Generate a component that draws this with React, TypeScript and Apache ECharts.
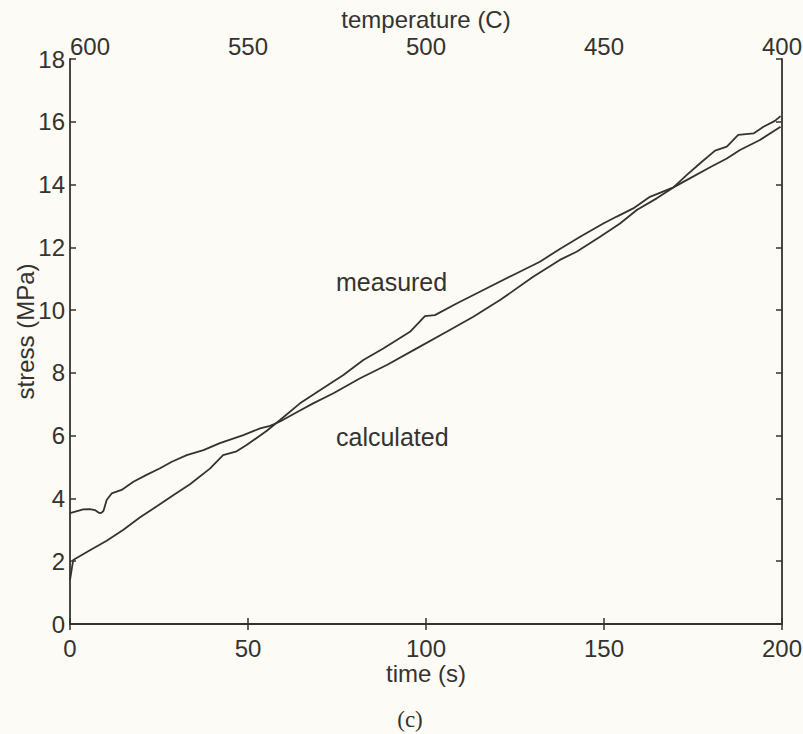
import React, { useEffect, useRef } from "react";
import * as echarts from "echarts";

// measured stress (MPa) vs time (s)
const measuredTime = [0, 0.9, 5.6, 10.3, 15, 19.7, 24.4, 29, 33.7, 39.3, 43, 46.8, 49.6, 55.2, 59, 64.6, 70.2, 76.8, 82.4, 88, 95.5, 99.7, 102.5, 108.6, 116.1, 124.5, 132, 137.6, 143.3, 149.8, 153.6, 158.2, 162.9, 169.5, 173.2, 179.8, 184.5, 188.2, 193.8, 199.6];
const measuredStress = [1.4, 2.04, 2.35, 2.65, 3.0, 3.4, 3.75, 4.1, 4.45, 4.95, 5.38, 5.5, 5.7, 6.15, 6.5, 7.03, 7.45, 7.93, 8.41, 8.78, 9.31, 9.81, 9.84, 10.21, 10.64, 11.12, 11.54, 11.95, 12.34, 12.76, 12.98, 13.24, 13.61, 13.91, 14.14, 14.55, 14.83, 15.1, 15.42, 15.84];

// calculated stress (MPa) vs time (s)
const calculatedTime = [0, 3.7, 5.6, 7, 8, 8.7, 9.4, 10.3, 11.7, 14.5, 17.8, 21.5, 25.3, 28.6, 32.8, 37.5, 42.1, 48.7, 53.4, 56.2, 59, 64.6, 68.3, 74, 81.5, 89, 97.4, 105.8, 113.3, 120.8, 130.1, 137.6, 142.3, 148.9, 154.5, 159.2, 164.8, 169.5, 173.2, 177, 181.2, 184.5, 187.7, 192, 194.8, 198, 199.6];
const calculatedStress = [3.53, 3.65, 3.66, 3.63, 3.55, 3.53, 3.6, 3.95, 4.16, 4.27, 4.53, 4.75, 4.96, 5.17, 5.38, 5.54, 5.76, 6.02, 6.23, 6.31, 6.45, 6.8, 7.03, 7.35, 7.83, 8.25, 8.78, 9.31, 9.79, 10.32, 11.06, 11.6, 11.86, 12.34, 12.76, 13.19, 13.56, 13.91, 14.3, 14.68, 15.08, 15.21, 15.58, 15.63, 15.84, 16.03, 16.18];

const timeRange = [0, 200];
const temperatureRange = [400, 600];
const stressRange = [0, 18];

const INK = "#35332f";
const FONT = "'Liberation Sans', Arial, Helvetica, sans-serif";
const FS = 24;
const FS_NOTE = 25;

export default function App() {
  const ref = useRef<HTMLDivElement>(null);
  useEffect(() => {
    if (!ref.current) return;
    const chart = echarts.init(ref.current, undefined, { renderer: "svg" });
    const axisLine = { show: true, lineStyle: { color: INK, width: 1.8 } };
    const tick = { show: true, inside: true, length: 6, lineStyle: { color: INK, width: 1.5 } };
    const label = { color: INK, fontFamily: FONT, fontSize: FS };
    const zip = (a: number[], b: number[]) => a.map((t, i) => [t, b[i]]);
    chart.setOption({
      animation: false,
      backgroundColor: "#fcfbf5",
      textStyle: { fontFamily: FONT },
      grid: { left: 70, right: 21, top: 59, bottom: 110, containLabel: false, outerBoundsMode: "none" },
      xAxis: [
        {
          type: "value",
          position: "bottom",
          min: timeRange[0],
          max: timeRange[1],
          interval: 50,
          axisLine,
          axisTick: tick,
          splitLine: { show: false },
          axisLabel: { ...label, margin: 12 },
          name: "time (s)",
          nameLocation: "middle",
          nameGap: 37,
          nameMoveOverlap: false,
          nameTextStyle: { ...label },
        },
        {
          type: "value",
          position: "top",
          inverse: true,
          min: temperatureRange[0],
          max: temperatureRange[1],
          interval: 50,
          axisLine,
          axisTick: tick,
          splitLine: { show: false },
          axisLabel: { ...label, margin: 1, alignMaxLabel: "left" },
          name: "temperature (C)",
          nameLocation: "middle",
          nameGap: 28,
          nameMoveOverlap: false,
          nameTextStyle: { ...label },
        },
      ],
      yAxis: [
        {
          type: "value",
          position: "left",
          min: stressRange[0],
          max: stressRange[1],
          interval: 2,
          axisLine,
          axisTick: tick,
          splitLine: { show: false },
          axisLabel: { ...label, margin: 5 },
          name: "stress (MPa)",
          nameLocation: "middle",
          nameGap: 33,
          nameRotate: 90,
          nameMoveOverlap: false,
          nameTextStyle: { ...label, padding: [0, 0, 0, 20] },
        },
        {
          type: "value",
          position: "right",
          min: stressRange[0],
          max: stressRange[1],
          interval: 2,
          axisLine,
          axisTick: tick,
          splitLine: { show: false },
          axisLabel: { show: false },
        },
      ],
      series: [
        {
          name: "measured",
          type: "line",
          xAxisIndex: 0,
          yAxisIndex: 0,
          data: zip(measuredTime, measuredStress),
          showSymbol: false,
          symbol: "none",
          lineStyle: { color: INK, width: 1.8 },
        },
        {
          name: "calculated",
          type: "line",
          xAxisIndex: 0,
          yAxisIndex: 0,
          data: zip(calculatedTime, calculatedStress),
          showSymbol: false,
          symbol: "none",
          lineStyle: { color: INK, width: 1.8 },
        },
      ],
      graphic: [
        { type: "text", x: 336, y: 282, style: { text: "measured", fill: INK, font: `${FS_NOTE}px ${FONT}`, verticalAlign: "middle", align: "left" } },
        { type: "text", x: 336, y: 437, style: { text: "calculated", fill: INK, font: `${FS_NOTE}px ${FONT}`, verticalAlign: "middle", align: "left" } },
        { type: "text", x: 410, y: 719, style: { text: "(c)", fill: INK, font: "23px 'Liberation Serif', 'DejaVu Serif', serif", verticalAlign: "middle", align: "center" } },
      ],
    });
    return () => chart.dispose();
  }, []);
  return <div ref={ref} style={{ position: "fixed", left: 0, top: 0, width: 803, height: 734 }} />;
}
